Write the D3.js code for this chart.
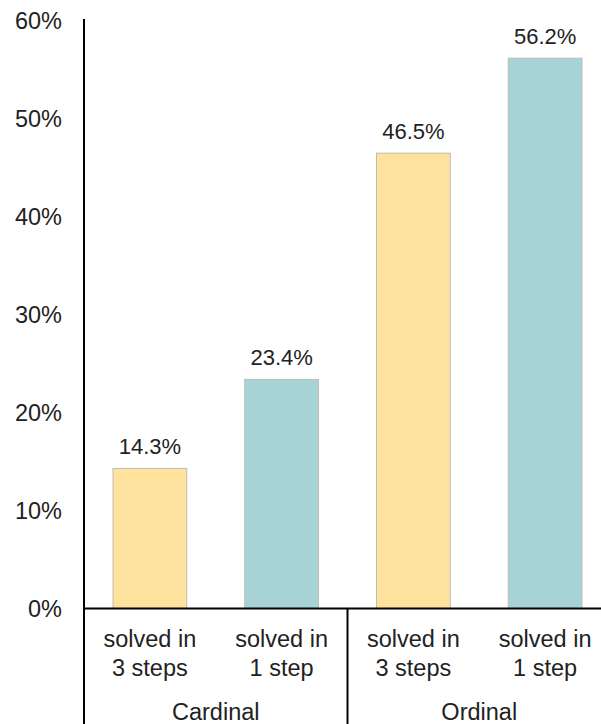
<!doctype html>
<html lang="en">
  <head>
    <meta charset="utf-8">
    <title>Solved rates</title>
    <script src="https://cdn.jsdelivr.net/npm/d3@7"></script>
    <style>
      body { margin: 0; background: #fff; }
      text { font-family: "Liberation Sans", Arial, sans-serif; fill: #222; }
    </style>
  </head>
  <body>
    <script>

      var groups = ["Cardinal", "Ordinal"];
      var categories = ["solved in|3 steps", "solved in|1 step", "solved in|3 steps", "solved in|1 step"];
      var catGroup = ["Cardinal", "Cardinal", "Ordinal", "Ordinal"];
      var values = [14.3, 23.4, 46.5, 56.2];
      var colors = ["#FFE29D", "#A8D3D6", "#FFE29D", "#A8D3D6"];
      var ticks = [0, 10, 20, 30, 40, 50, 60];

      var width = 601, height = 724;
      var margin = {top: 21, left: 84, bottom: 115};

      var svg = d3.select("body").append("svg")
          .attr("width", width)
          .attr("height", height);

      var keys = d3.range(categories.length);

      var x = d3.scaleBand()
          .domain(keys)
          .range([margin.left, 611])
          .paddingInner(0.44)
          .paddingOuter(0.22);

      var y = d3.scaleLinear()
          .domain([0, 60])
          .range([height - margin.bottom - 0.5, margin.top]);

      // y tick labels
      svg.append("g").selectAll("text")
          .data(ticks)
        .enter().append("text")
          .attr("x", 62)
          .attr("y", function(d){ return y(d); })
          .attr("dy", "0.35em")
          .attr("text-anchor", "end")
          .style("font-size", "23.5px")
          .text(function(d){ return d + "%"; });

      // bars
      svg.append("g").selectAll("rect")
          .data(values)
        .enter().append("rect")
          .attr("x", function(d,i){ return x(i); })
          .attr("y", function(d){ return y(d); })
          .attr("width", x.bandwidth())
          .attr("height", function(d){ return y(0) - y(d); })
          .attr("fill", function(d,i){ return colors[i]; })
          .attr("stroke", "#bdbdb5")
          .attr("stroke-width", 1);

      // value labels
      svg.append("g").selectAll("text")
          .data(values)
        .enter().append("text")
          .attr("x", function(d,i){ return x(i) + x.bandwidth()/2; })
          .attr("y", function(d){ return y(d) - 14; })
          .attr("text-anchor", "middle")
          .style("font-size", "22px")
          .text(function(d){ return d.toFixed(1) + "%"; });

      // category labels (two lines)
      var cat = svg.append("g").selectAll("text")
          .data(categories)
        .enter().append("text")
          .attr("text-anchor", "middle")
          .style("font-size", "23.5px")
          .attr("transform", function(d,i){ return "translate(" + (x(i) + x.bandwidth()/2) + "," + (y(0) + 38) + ")"; });
      cat.selectAll("tspan")
          .data(function(d){ return d.split("|"); })
        .enter().append("tspan")
          .attr("x", 0)
          .attr("dy", function(d,i){ return i ? 29 : 0; })
          .text(String);

      // group labels
      svg.append("g").selectAll("text")
          .data(groups)
        .enter().append("text")
          .attr("text-anchor", "middle")
          .style("font-size", "23.5px")
          .attr("x", function(g){
            var idx = keys.filter(function(i){ return catGroup[i] === g; });
            return (x(idx[0]) + x(idx[idx.length-1]) + x.bandwidth()) / 2;
          })
          .attr("y", y(0) + 111)
          .text(String);

      // axis lines
      svg.append("line")
          .attr("x1", margin.left).attr("x2", margin.left)
          .attr("y1", margin.top - 2).attr("y2", height)
          .attr("stroke", "#000").attr("stroke-width", 2);

      svg.append("line")
          .attr("x1", margin.left).attr("x2", width)
          .attr("y1", y(0)).attr("y2", y(0))
          .attr("stroke", "#000").attr("stroke-width", 2);

      // group separator
      var sep = (x(1) + x.bandwidth() + x(2)) / 2;
      svg.append("line")
          .attr("x1", sep).attr("x2", sep)
          .attr("y1", y(0)).attr("y2", height)
          .attr("stroke", "#000").attr("stroke-width", 2);

    </script>
  </body>
</html>
